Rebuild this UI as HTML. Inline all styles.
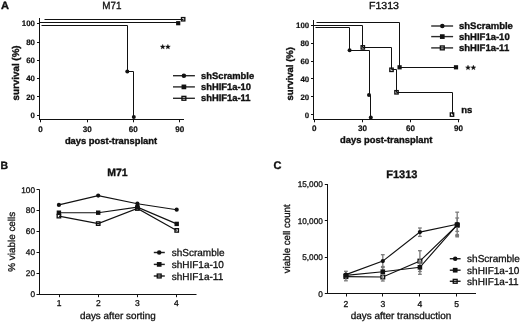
<!DOCTYPE html>
<html><head><meta charset="utf-8"><title>Figure</title>
<style>
html,body{margin:0;padding:0;background:#fff;}
body{width:520px;height:322px;overflow:hidden;}
svg{display:block;font-family:"Liberation Sans",sans-serif;filter:grayscale(1) blur(0.2px);text-rendering:geometricPrecision;}
</style></head><body>
<svg width="520" height="322" viewBox="0 0 520 322">
<rect width="520" height="322" fill="#fff"/>
<text x="0" y="0" font-size="10.5" font-weight="bold" stroke="#111" stroke-width="0.35" text-anchor="start" transform="translate(0.9 9.0) scale(1.05 1.0)" fill="#111">A</text>
<text x="0" y="0" font-size="10" stroke="#111" stroke-width="0.3" text-anchor="middle" transform="translate(111.9 8.75) scale(0.99 1.04)" fill="#111">M71</text>
<line x1="39.5" y1="18" x2="39.5" y2="119.5" stroke="#111" stroke-width="1"/>
<line x1="39.0" y1="119.5" x2="184" y2="119.5" stroke="#111" stroke-width="1"/>
<line x1="37.0" y1="115.5" x2="39.5" y2="115.5" stroke="#111" stroke-width="1"/>
<text x="35.0" y="118.1" font-size="7.9" font-weight="bold" stroke="#111" stroke-width="0.2" text-anchor="end" fill="#111">0</text>
<line x1="37.0" y1="96.5" x2="39.5" y2="96.5" stroke="#111" stroke-width="1"/>
<text x="35.0" y="99.7" font-size="7.9" font-weight="bold" stroke="#111" stroke-width="0.2" text-anchor="end" fill="#111">20</text>
<line x1="37.0" y1="78.5" x2="39.5" y2="78.5" stroke="#111" stroke-width="1"/>
<text x="35.0" y="81.3" font-size="7.9" font-weight="bold" stroke="#111" stroke-width="0.2" text-anchor="end" fill="#111">40</text>
<line x1="37.0" y1="60.5" x2="39.5" y2="60.5" stroke="#111" stroke-width="1"/>
<text x="35.0" y="63.199999999999996" font-size="7.9" font-weight="bold" stroke="#111" stroke-width="0.2" text-anchor="end" fill="#111">60</text>
<line x1="37.0" y1="42.5" x2="39.5" y2="42.5" stroke="#111" stroke-width="1"/>
<text x="35.0" y="45.099999999999994" font-size="7.9" font-weight="bold" stroke="#111" stroke-width="0.2" text-anchor="end" fill="#111">80</text>
<line x1="37.0" y1="23.5" x2="39.5" y2="23.5" stroke="#111" stroke-width="1"/>
<text x="35.0" y="26.2" font-size="7.9" font-weight="bold" stroke="#111" stroke-width="0.2" text-anchor="end" fill="#111">100</text>
<line x1="40.5" y1="119.5" x2="40.5" y2="122.3" stroke="#111" stroke-width="1"/>
<text x="40.4" y="131.85" font-size="8.1" font-weight="bold" stroke="#111" stroke-width="0.2" text-anchor="middle" fill="#111">0</text>
<line x1="87.5" y1="119.5" x2="87.5" y2="122.3" stroke="#111" stroke-width="1"/>
<text x="87.30000000000001" y="131.85" font-size="8.1" font-weight="bold" stroke="#111" stroke-width="0.2" text-anchor="middle" fill="#111">30</text>
<line x1="133.5" y1="119.5" x2="133.5" y2="122.3" stroke="#111" stroke-width="1"/>
<text x="133.20000000000002" y="131.85" font-size="8.1" font-weight="bold" stroke="#111" stroke-width="0.2" text-anchor="middle" fill="#111">60</text>
<line x1="179.5" y1="119.5" x2="179.5" y2="122.3" stroke="#111" stroke-width="1"/>
<text x="179.70000000000002" y="131.85" font-size="8.1" font-weight="bold" stroke="#111" stroke-width="0.2" text-anchor="middle" fill="#111">90</text>
<text x="111" y="143.6" font-size="9.4" font-weight="bold" stroke="#111" stroke-width="0.35" text-anchor="middle" fill="#111">days post-transplant</text>
<text x="19.4" y="72.9" font-size="9.8" font-weight="bold" stroke="#111" stroke-width="0.35" text-anchor="middle" transform="rotate(-90 19.4 72.9)" fill="#111">survival (%)</text>
<polyline points="44.5,19.5 183.5,19.5" fill="none" stroke="#111" stroke-width="1" stroke-linejoin="miter"/>
<polyline points="39.5,22.5 178.5,22.5" fill="none" stroke="#111" stroke-width="1" stroke-linejoin="miter"/>
<polyline points="41.5,25.5 127.5,25.5 127.5,71.5 133.5,71.5 133.5,117.5" fill="none" stroke="#111" stroke-width="1" stroke-linejoin="miter"/>
<rect x="181.47500000000002" y="17.575" width="3.35" height="3.35" fill="none" stroke="#111" stroke-width="1.35"/>
<rect x="176.1" y="21.099999999999998" width="4.2" height="4.2" fill="#111"/>
<circle cx="127.3" cy="71.5" r="2.0" fill="#111"/>
<circle cx="133.8" cy="117" r="2.0" fill="#111"/>
<polygon points="162.70,44.30 163.38,45.97 165.17,46.10 163.79,47.26 164.23,49.00 162.70,48.05 161.17,49.00 161.61,47.26 160.23,46.10 162.02,45.97" fill="#111" stroke="#111" stroke-width="0.3"/>
<polygon points="167.90,44.30 168.58,45.97 170.37,46.10 168.99,47.26 169.43,49.00 167.90,48.05 166.37,49.00 166.81,47.26 165.43,46.10 167.22,45.97" fill="#111" stroke="#111" stroke-width="0.3"/>
<line x1="173" y1="75.7" x2="194.9" y2="75.7" stroke="#2a2a2a" stroke-width="1.4"/>
<circle cx="183.9" cy="75.7" r="2.25" fill="#111"/>
<text x="201" y="78.8" font-size="9.4" font-weight="bold" stroke="#111" stroke-width="0.35" text-anchor="start" fill="#111">shScramble</text>
<line x1="173" y1="86.9" x2="194.9" y2="86.9" stroke="#2a2a2a" stroke-width="1.4"/>
<rect x="181.55" y="84.55000000000001" width="4.7" height="4.7" fill="#111"/>
<text x="201" y="90.0" font-size="9.4" font-weight="bold" stroke="#111" stroke-width="0.35" text-anchor="start" fill="#111">shHIF1a-10</text>
<line x1="173" y1="98.3" x2="194.9" y2="98.3" stroke="#2a2a2a" stroke-width="1.4"/>
<rect x="181.97500000000002" y="96.375" width="3.85" height="3.85" fill="none" stroke="#111" stroke-width="1.35"/>
<text x="201" y="101.39999999999999" font-size="9.4" font-weight="bold" stroke="#111" stroke-width="0.35" text-anchor="start" fill="#111">shHIF1a-11</text>
<text x="0" y="0" font-size="9.8" stroke="#111" stroke-width="0.33" text-anchor="middle" transform="translate(384.0 8.6) scale(1.08 1.04)" fill="#111">F1313</text>
<line x1="313.5" y1="20" x2="313.5" y2="119.5" stroke="#111" stroke-width="1"/>
<line x1="313.0" y1="119.5" x2="459.5" y2="119.5" stroke="#111" stroke-width="1"/>
<line x1="311.0" y1="114.5" x2="313.5" y2="114.5" stroke="#111" stroke-width="1"/>
<text x="309.2" y="117.5" font-size="7.9" font-weight="bold" stroke="#111" stroke-width="0.2" text-anchor="end" fill="#111">0</text>
<line x1="311.0" y1="96.5" x2="313.5" y2="96.5" stroke="#111" stroke-width="1"/>
<text x="309.2" y="99.7" font-size="7.9" font-weight="bold" stroke="#111" stroke-width="0.2" text-anchor="end" fill="#111">20</text>
<line x1="311.0" y1="78.5" x2="313.5" y2="78.5" stroke="#111" stroke-width="1"/>
<text x="309.2" y="81.6" font-size="7.9" font-weight="bold" stroke="#111" stroke-width="0.2" text-anchor="end" fill="#111">40</text>
<line x1="311.0" y1="61.5" x2="313.5" y2="61.5" stroke="#111" stroke-width="1"/>
<text x="309.2" y="63.8" font-size="7.9" font-weight="bold" stroke="#111" stroke-width="0.2" text-anchor="end" fill="#111">60</text>
<line x1="311.0" y1="43.5" x2="313.5" y2="43.5" stroke="#111" stroke-width="1"/>
<text x="309.2" y="45.9" font-size="7.9" font-weight="bold" stroke="#111" stroke-width="0.2" text-anchor="end" fill="#111">80</text>
<line x1="311.0" y1="25.5" x2="313.5" y2="25.5" stroke="#111" stroke-width="1"/>
<text x="309.2" y="28.1" font-size="7.9" font-weight="bold" stroke="#111" stroke-width="0.2" text-anchor="end" fill="#111">100</text>
<line x1="314.5" y1="119.5" x2="314.5" y2="122.3" stroke="#111" stroke-width="1"/>
<text x="314.3" y="130.6" font-size="8.1" font-weight="bold" stroke="#111" stroke-width="0.2" text-anchor="middle" fill="#111">0</text>
<line x1="362.5" y1="119.5" x2="362.5" y2="122.3" stroke="#111" stroke-width="1"/>
<text x="362.40000000000003" y="130.6" font-size="8.1" font-weight="bold" stroke="#111" stroke-width="0.2" text-anchor="middle" fill="#111">30</text>
<line x1="410.5" y1="119.5" x2="410.5" y2="122.3" stroke="#111" stroke-width="1"/>
<text x="410.5" y="130.6" font-size="8.1" font-weight="bold" stroke="#111" stroke-width="0.2" text-anchor="middle" fill="#111">60</text>
<line x1="458.5" y1="119.5" x2="458.5" y2="122.3" stroke="#111" stroke-width="1"/>
<text x="458.6" y="130.6" font-size="8.1" font-weight="bold" stroke="#111" stroke-width="0.2" text-anchor="middle" fill="#111">90</text>
<text x="386.2" y="142.8" font-size="9.4" font-weight="bold" stroke="#111" stroke-width="0.35" text-anchor="middle" fill="#111">days post-transplant</text>
<text x="292.9" y="73.8" font-size="9.55" font-weight="bold" stroke="#111" stroke-width="0.35" text-anchor="middle" transform="rotate(-90 292.9 73.8)" fill="#111">survival (%)</text>
<polyline points="316.5,22.5 399.5,22.5 399.5,67.5 456.5,67.5" fill="none" stroke="#111" stroke-width="1" stroke-linejoin="miter"/>
<polyline points="313.5,25.5 362.5,25.5 362.5,47.5 391.5,47.5 391.5,69.5 396.5,69.5 396.5,92.5 452.5,92.5 452.5,114.5" fill="none" stroke="#111" stroke-width="1" stroke-linejoin="miter"/>
<polyline points="315.5,27.5 349.5,27.5 349.5,50.5 369.5,50.5 369.5,95.5 370.5,95.5 370.5,117.5" fill="none" stroke="#111" stroke-width="1" stroke-linejoin="miter"/>
<rect x="397.5" y="65.2" width="4.2" height="4.2" fill="#111"/>
<rect x="453.9" y="65.2" width="4.2" height="4.2" fill="#111"/>
<rect x="361.125" y="45.724999999999994" width="3.35" height="3.35" fill="none" stroke="#111" stroke-width="1.35"/>
<rect x="389.825" y="68.125" width="3.35" height="3.35" fill="none" stroke="#111" stroke-width="1.35"/>
<rect x="394.825" y="90.625" width="3.35" height="3.35" fill="none" stroke="#111" stroke-width="1.35"/>
<rect x="450.325" y="112.925" width="3.35" height="3.35" fill="none" stroke="#111" stroke-width="1.35"/>
<circle cx="349.6" cy="50.2" r="2.0" fill="#111"/>
<circle cx="369" cy="95" r="2.0" fill="#111"/>
<circle cx="370.8" cy="117.6" r="2.0" fill="#111"/>
<polygon points="468.00,65.10 468.68,66.77 470.47,66.90 469.09,68.06 469.53,69.80 468.00,68.85 466.47,69.80 466.91,68.06 465.53,66.90 467.32,66.77" fill="#111" stroke="#111" stroke-width="0.3"/>
<polygon points="473.40,65.10 474.08,66.77 475.87,66.90 474.49,68.06 474.93,69.80 473.40,68.85 471.87,69.80 472.31,68.06 470.93,66.90 472.72,66.77" fill="#111" stroke="#111" stroke-width="0.3"/>
<text x="466.7" y="112.6" font-size="9.5" font-weight="bold" stroke="#111" stroke-width="0.35" text-anchor="middle" fill="#111">ns</text>
<line x1="431.2" y1="26.0" x2="453.1" y2="26.0" stroke="#2a2a2a" stroke-width="1.4"/>
<circle cx="442.3" cy="26.0" r="2.25" fill="#111"/>
<text x="459.0" y="29.1" font-size="9.5" font-weight="bold" stroke="#111" stroke-width="0.35" text-anchor="start" fill="#111">shScramble</text>
<line x1="431.2" y1="36.6" x2="453.1" y2="36.6" stroke="#2a2a2a" stroke-width="1.4"/>
<rect x="439.95" y="34.25" width="4.7" height="4.7" fill="#111"/>
<text x="459.0" y="39.7" font-size="9.5" font-weight="bold" stroke="#111" stroke-width="0.35" text-anchor="start" fill="#111">shHIF1a-10</text>
<line x1="431.2" y1="47.9" x2="453.1" y2="47.9" stroke="#2a2a2a" stroke-width="1.4"/>
<rect x="440.375" y="45.974999999999994" width="3.85" height="3.85" fill="none" stroke="#111" stroke-width="1.35"/>
<text x="459.0" y="51.0" font-size="9.5" font-weight="bold" stroke="#111" stroke-width="0.35" text-anchor="start" fill="#111">shHIF1a-11</text>
<text x="0.6" y="169.2" font-size="10.5" font-weight="bold" stroke="#111" stroke-width="0.35" text-anchor="start" fill="#111">B</text>
<text x="117.5" y="176.3" font-size="10.5" font-weight="bold" stroke="#111" stroke-width="0.35" text-anchor="middle" fill="#111">M71</text>
<line x1="39.5" y1="189.6" x2="39.5" y2="294.4" stroke="#111" stroke-width="1"/>
<line x1="39.1" y1="294.5" x2="196.5" y2="294.5" stroke="#111" stroke-width="1"/>
<line x1="36.5" y1="294.5" x2="39.6" y2="294.5" stroke="#111" stroke-width="1"/>
<text x="35.0" y="297.15" font-size="8.25" stroke="#111" stroke-width="0.3" text-anchor="end" fill="#111">0</text>
<line x1="36.5" y1="273.5" x2="39.6" y2="273.5" stroke="#111" stroke-width="1"/>
<text x="35.0" y="276.22999999999996" font-size="8.25" stroke="#111" stroke-width="0.3" text-anchor="end" fill="#111">20</text>
<line x1="36.5" y1="252.5" x2="39.6" y2="252.5" stroke="#111" stroke-width="1"/>
<text x="35.0" y="255.30999999999997" font-size="8.25" stroke="#111" stroke-width="0.3" text-anchor="end" fill="#111">40</text>
<line x1="36.5" y1="231.5" x2="39.6" y2="231.5" stroke="#111" stroke-width="1"/>
<text x="35.0" y="234.39" font-size="8.25" stroke="#111" stroke-width="0.3" text-anchor="end" fill="#111">60</text>
<line x1="36.5" y1="210.5" x2="39.6" y2="210.5" stroke="#111" stroke-width="1"/>
<text x="35.0" y="213.46999999999997" font-size="8.25" stroke="#111" stroke-width="0.3" text-anchor="end" fill="#111">80</text>
<line x1="36.5" y1="189.5" x2="39.6" y2="189.5" stroke="#111" stroke-width="1"/>
<text x="35.0" y="192.54999999999995" font-size="8.25" stroke="#111" stroke-width="0.3" text-anchor="end" fill="#111">100</text>
<line x1="59.5" y1="294.4" x2="59.5" y2="297.2" stroke="#111" stroke-width="1"/>
<text x="59.2" y="306.0" font-size="8.5" stroke="#111" stroke-width="0.3" text-anchor="middle" fill="#111">1</text>
<line x1="98.5" y1="294.4" x2="98.5" y2="297.2" stroke="#111" stroke-width="1"/>
<text x="98.27000000000001" y="306.0" font-size="8.5" stroke="#111" stroke-width="0.3" text-anchor="middle" fill="#111">2</text>
<line x1="137.5" y1="294.4" x2="137.5" y2="297.2" stroke="#111" stroke-width="1"/>
<text x="137.34" y="306.0" font-size="8.5" stroke="#111" stroke-width="0.3" text-anchor="middle" fill="#111">3</text>
<line x1="176.5" y1="294.4" x2="176.5" y2="297.2" stroke="#111" stroke-width="1"/>
<text x="176.41000000000003" y="306.0" font-size="8.5" stroke="#111" stroke-width="0.3" text-anchor="middle" fill="#111">4</text>
<text x="117.8" y="318.6" font-size="9.9" stroke="#111" stroke-width="0.3" text-anchor="middle" fill="#111">days after sorting</text>
<text x="15.2" y="241.75" font-size="9.9" stroke="#111" stroke-width="0.3" text-anchor="middle" transform="rotate(-90 15.2 241.75)" fill="#111">% viable cells</text>
<polyline points="58.9,216.1 98.2,223.6 137.4,208.5 176.7,230.4" fill="none" stroke="#111" stroke-width="1.15" stroke-linejoin="miter"/>
<polyline points="58.9,212.7 98.2,212.7 137.4,207.2 176.7,223.9" fill="none" stroke="#111" stroke-width="1.15" stroke-linejoin="miter"/>
<polyline points="58.9,204.9 98.2,195.6 137.4,203.7 176.7,209.7" fill="none" stroke="#111" stroke-width="1.15" stroke-linejoin="miter"/>
<rect x="57.175" y="214.375" width="3.4499999999999997" height="3.4499999999999997" fill="none" stroke="#111" stroke-width="1.35"/>
<rect x="96.475" y="221.875" width="3.4499999999999997" height="3.4499999999999997" fill="none" stroke="#111" stroke-width="1.35"/>
<rect x="135.675" y="206.775" width="3.4499999999999997" height="3.4499999999999997" fill="none" stroke="#111" stroke-width="1.35"/>
<rect x="174.975" y="228.675" width="3.4499999999999997" height="3.4499999999999997" fill="none" stroke="#111" stroke-width="1.35"/>
<rect x="56.699999999999996" y="210.5" width="4.4" height="4.4" fill="#111"/>
<rect x="96.0" y="210.5" width="4.4" height="4.4" fill="#111"/>
<rect x="135.20000000000002" y="205.0" width="4.4" height="4.4" fill="#111"/>
<rect x="174.5" y="221.70000000000002" width="4.4" height="4.4" fill="#111"/>
<circle cx="58.9" cy="204.9" r="2.1" fill="#111"/>
<circle cx="98.2" cy="195.6" r="2.1" fill="#111"/>
<circle cx="137.4" cy="203.7" r="2.1" fill="#111"/>
<circle cx="176.7" cy="209.7" r="2.1" fill="#111"/>
<line x1="153.8" y1="252.5" x2="164.8" y2="252.5" stroke="#222" stroke-width="1.45"/>
<circle cx="159.2" cy="252.5" r="2.25" fill="#111"/>
<text x="171.7" y="256.1" font-size="10" stroke="#111" stroke-width="0.3" text-anchor="start" fill="#111">shScramble</text>
<line x1="153.8" y1="264.4" x2="164.8" y2="264.4" stroke="#222" stroke-width="1.45"/>
<rect x="156.85" y="262.04999999999995" width="4.7" height="4.7" fill="#111"/>
<text x="171.7" y="268.0" font-size="10" stroke="#111" stroke-width="0.3" text-anchor="start" fill="#111">shHIF1a-10</text>
<line x1="153.8" y1="276" x2="164.8" y2="276" stroke="#222" stroke-width="1.45"/>
<rect x="157.275" y="274.075" width="3.85" height="3.85" fill="none" stroke="#111" stroke-width="1.35"/>
<text x="171.7" y="279.6" font-size="10" stroke="#111" stroke-width="0.3" text-anchor="start" fill="#111">shHIF1a-11</text>
<text x="273.5" y="169.4" font-size="11" font-weight="bold" stroke="#111" stroke-width="0.35" text-anchor="start" fill="#111">C</text>
<text x="401.8" y="177.7" font-size="11" font-weight="bold" stroke="#111" stroke-width="0.35" text-anchor="middle" fill="#111">F1313</text>
<line x1="327.5" y1="184" x2="327.5" y2="293.7" stroke="#111" stroke-width="1"/>
<line x1="326.9" y1="293.5" x2="476" y2="293.5" stroke="#111" stroke-width="1"/>
<line x1="324.8" y1="293.5" x2="327.4" y2="293.5" stroke="#111" stroke-width="1"/>
<text x="322.9" y="296.5" font-size="8.25" stroke="#111" stroke-width="0.3" text-anchor="end" fill="#111">0</text>
<line x1="324.8" y1="257.5" x2="327.4" y2="257.5" stroke="#111" stroke-width="1"/>
<text x="322.9" y="260.03333333333336" font-size="8.25" stroke="#111" stroke-width="0.3" text-anchor="end" fill="#111">5,000</text>
<line x1="324.8" y1="220.5" x2="327.4" y2="220.5" stroke="#111" stroke-width="1"/>
<text x="322.9" y="223.56666666666666" font-size="8.25" stroke="#111" stroke-width="0.3" text-anchor="end" fill="#111">10,000</text>
<line x1="324.8" y1="184.5" x2="327.4" y2="184.5" stroke="#111" stroke-width="1"/>
<text x="322.9" y="187.1" font-size="8.25" stroke="#111" stroke-width="0.3" text-anchor="end" fill="#111">15,000</text>
<line x1="346.5" y1="293.7" x2="346.5" y2="296.5" stroke="#111" stroke-width="1"/>
<text x="346.0" y="307.2" font-size="8.6" stroke="#111" stroke-width="0.3" text-anchor="middle" fill="#111">2</text>
<line x1="382.5" y1="293.7" x2="382.5" y2="296.5" stroke="#111" stroke-width="1"/>
<text x="382.9" y="307.2" font-size="8.6" stroke="#111" stroke-width="0.3" text-anchor="middle" fill="#111">3</text>
<line x1="419.5" y1="293.7" x2="419.5" y2="296.5" stroke="#111" stroke-width="1"/>
<text x="419.8" y="307.2" font-size="8.6" stroke="#111" stroke-width="0.3" text-anchor="middle" fill="#111">4</text>
<line x1="456.5" y1="293.7" x2="456.5" y2="296.5" stroke="#111" stroke-width="1"/>
<text x="456.7" y="307.2" font-size="8.6" stroke="#111" stroke-width="0.3" text-anchor="middle" fill="#111">5</text>
<text x="401.0" y="318.9" font-size="9.95" stroke="#111" stroke-width="0.3" text-anchor="middle" fill="#111">days after transduction</text>
<text x="289.7" y="238.8" font-size="9.7" stroke="#111" stroke-width="0.3" text-anchor="middle" transform="rotate(-90 289.7 238.8)" fill="#111">viable cell count</text>
<polyline points="345.9,276.6 382.8,277 419.9,261.1 457.2,225.2" fill="none" stroke="#111" stroke-width="1.15" stroke-linejoin="miter"/>
<polyline points="345.9,275.4 382.8,271.7 419.9,267.3 457.2,224.8" fill="none" stroke="#111" stroke-width="1.15" stroke-linejoin="miter"/>
<polyline points="345.9,274.6 382.8,261.1 419.9,232.1 457.2,224.2" fill="none" stroke="#111" stroke-width="1.15" stroke-linejoin="miter"/>
<rect x="344.075" y="274.77500000000003" width="3.65" height="3.65" fill="#fff" stroke="#111" stroke-width="1.35"/>
<rect x="380.975" y="275.175" width="3.65" height="3.65" fill="#fff" stroke="#111" stroke-width="1.35"/>
<rect x="418.075" y="259.27500000000003" width="3.65" height="3.65" fill="#fff" stroke="#111" stroke-width="1.35"/>
<rect x="455.375" y="223.375" width="3.65" height="3.65" fill="#fff" stroke="#111" stroke-width="1.35"/>
<line x1="345.9" y1="271.3" x2="345.9" y2="280.8" stroke="#7a7a7a" stroke-width="1.3"/>
<line x1="344.0" y1="271.3" x2="347.79999999999995" y2="271.3" stroke="#7a7a7a" stroke-width="1.3"/>
<line x1="344.0" y1="280.8" x2="347.79999999999995" y2="280.8" stroke="#7a7a7a" stroke-width="1.3"/>
<line x1="382.8" y1="254.7" x2="382.8" y2="267.5" stroke="#7a7a7a" stroke-width="1.3"/>
<line x1="380.90000000000003" y1="254.7" x2="384.7" y2="254.7" stroke="#7a7a7a" stroke-width="1.3"/>
<line x1="380.90000000000003" y1="267.5" x2="384.7" y2="267.5" stroke="#7a7a7a" stroke-width="1.3"/>
<line x1="382.8" y1="266.5" x2="382.8" y2="281" stroke="#7a7a7a" stroke-width="1.3"/>
<line x1="380.90000000000003" y1="266.5" x2="384.7" y2="266.5" stroke="#7a7a7a" stroke-width="1.3"/>
<line x1="380.90000000000003" y1="281" x2="384.7" y2="281" stroke="#7a7a7a" stroke-width="1.3"/>
<line x1="419.9" y1="228" x2="419.9" y2="236.4" stroke="#7a7a7a" stroke-width="1.3"/>
<line x1="418.0" y1="228" x2="421.79999999999995" y2="228" stroke="#7a7a7a" stroke-width="1.3"/>
<line x1="418.0" y1="236.4" x2="421.79999999999995" y2="236.4" stroke="#7a7a7a" stroke-width="1.3"/>
<line x1="419.9" y1="250.7" x2="419.9" y2="271.5" stroke="#7a7a7a" stroke-width="1.3"/>
<line x1="418.0" y1="250.7" x2="421.79999999999995" y2="250.7" stroke="#7a7a7a" stroke-width="1.3"/>
<line x1="418.0" y1="271.5" x2="421.79999999999995" y2="271.5" stroke="#7a7a7a" stroke-width="1.3"/>
<line x1="419.9" y1="262" x2="419.9" y2="274.3" stroke="#7a7a7a" stroke-width="1.3"/>
<line x1="418.0" y1="262" x2="421.79999999999995" y2="262" stroke="#7a7a7a" stroke-width="1.3"/>
<line x1="418.0" y1="274.3" x2="421.79999999999995" y2="274.3" stroke="#7a7a7a" stroke-width="1.3"/>
<line x1="457.2" y1="212.2" x2="457.2" y2="235.7" stroke="#7a7a7a" stroke-width="1.3"/>
<line x1="455.3" y1="212.2" x2="459.09999999999997" y2="212.2" stroke="#7a7a7a" stroke-width="1.3"/>
<line x1="455.3" y1="235.7" x2="459.09999999999997" y2="235.7" stroke="#7a7a7a" stroke-width="1.3"/>
<line x1="457.2" y1="218" x2="457.2" y2="231.4" stroke="#7a7a7a" stroke-width="1.3"/>
<line x1="455.3" y1="218" x2="459.09999999999997" y2="218" stroke="#7a7a7a" stroke-width="1.3"/>
<line x1="455.3" y1="231.4" x2="459.09999999999997" y2="231.4" stroke="#7a7a7a" stroke-width="1.3"/>
<rect x="455.4" y="233.89999999999998" width="3.6" height="3.6" fill="#7a7a7a"/>
<rect x="343.59999999999997" y="273.09999999999997" width="4.6" height="4.6" fill="#111"/>
<rect x="380.5" y="269.4" width="4.6" height="4.6" fill="#111"/>
<rect x="417.59999999999997" y="265.0" width="4.6" height="4.6" fill="#111"/>
<rect x="454.9" y="222.5" width="4.6" height="4.6" fill="#111"/>
<circle cx="345.9" cy="274.6" r="2.15" fill="#111"/>
<circle cx="382.8" cy="261.1" r="2.15" fill="#111"/>
<circle cx="419.9" cy="232.1" r="2.15" fill="#111"/>
<circle cx="457.2" cy="224.2" r="2.15" fill="#111"/>
<line x1="449.8" y1="258.7" x2="460.6" y2="258.7" stroke="#222" stroke-width="1.45"/>
<circle cx="455.2" cy="258.7" r="2.25" fill="#111"/>
<text x="467.1" y="262.3" font-size="10" stroke="#111" stroke-width="0.3" text-anchor="start" fill="#111">shScramble</text>
<line x1="449.8" y1="270.2" x2="460.6" y2="270.2" stroke="#222" stroke-width="1.45"/>
<rect x="452.84999999999997" y="267.84999999999997" width="4.7" height="4.7" fill="#111"/>
<text x="467.1" y="273.8" font-size="10" stroke="#111" stroke-width="0.3" text-anchor="start" fill="#111">shHIF1a-10</text>
<line x1="449.8" y1="281.3" x2="460.6" y2="281.3" stroke="#222" stroke-width="1.45"/>
<rect x="453.275" y="279.375" width="3.85" height="3.85" fill="none" stroke="#111" stroke-width="1.35"/>
<text x="467.1" y="284.90000000000003" font-size="10" stroke="#111" stroke-width="0.3" text-anchor="start" fill="#111">shHIF1a-11</text>
</svg>
</body></html>
